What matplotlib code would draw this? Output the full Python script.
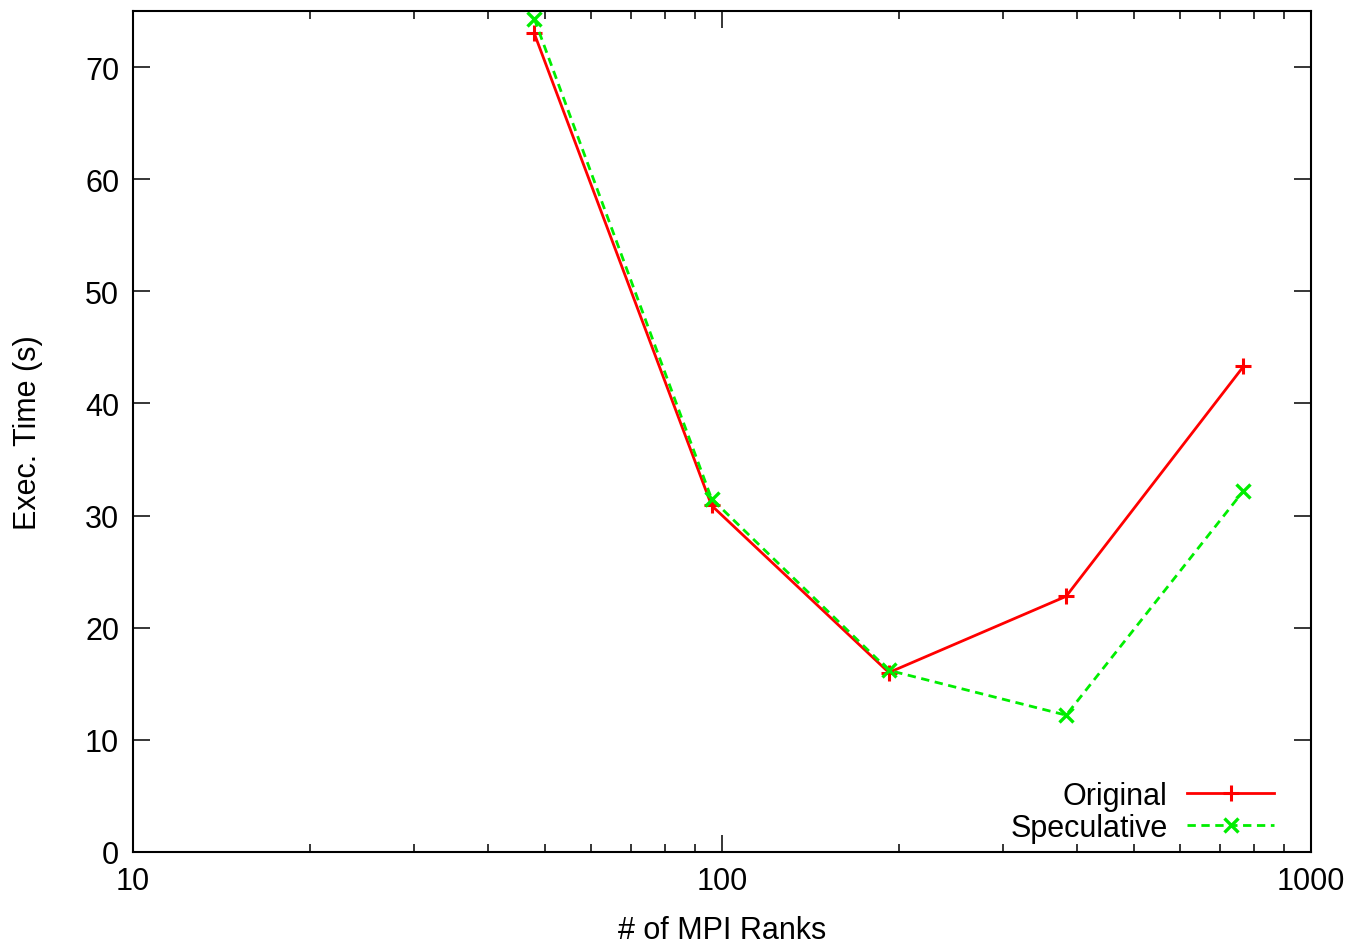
import matplotlib
matplotlib.use("Agg")
import matplotlib.pyplot as plt
from matplotlib.ticker import FixedLocator, FixedFormatter, LogLocator, NullFormatter

plt.rcParams['font.family'] = ['Liberation Sans', 'DejaVu Sans']

ranks = [48, 96, 192, 384, 768]
original = [73.0, 30.9, 16.0, 22.8, 43.3]
speculative = [74.3, 31.5, 16.2, 12.2, 32.2]
x_ticks = [10, 100, 1000]
x_tick_labels = ["10", "100", "1000"]
y_ticks = [0, 10, 20, 30, 40, 50, 60, 70]

FS = 22

fig = plt.figure(figsize=(13.55, 9.45), dpi=100)
ax = fig.add_axes([0.0982, 0.0974, 0.8693, 0.8899])

ax.plot(ranks, original, color="#ff0000", lw=2, marker="+", ms=11, mew=2.2,
        label="Original")
ax.plot(ranks, speculative, color="#00ee00", lw=2, ls=(0, (3, 2)), marker="x",
        ms=10, mew=2.4, label="Speculative")

ax.set_xscale("log")
ax.set_xlim(10, 1000)
ax.set_ylim(0, 75)
ax.xaxis.set_major_locator(FixedLocator(x_ticks))
ax.xaxis.set_major_formatter(FixedFormatter(x_tick_labels))
ax.xaxis.set_minor_locator(LogLocator(base=10, subs=range(2, 10)))
ax.xaxis.set_minor_formatter(NullFormatter())
ax.set_yticks(y_ticks)

ax.tick_params(which="both", direction="in", top=True, right=True, labelsize=FS,
               width=1.1)
ax.tick_params(which="major", length=12, pad=10)
ax.tick_params(which="minor", length=6)
for s in ax.spines.values():
    s.set_linewidth(1.5)

ax.set_xlabel("# of MPI Ranks", fontsize=FS, labelpad=14)
ax.set_ylabel("Exec. Time (s)", fontsize=FS, labelpad=30)

ax.legend(loc="lower right", bbox_to_anchor=(0.969, 0.011), frameon=False,
          markerfirst=False, fontsize=FS, handlelength=2.85, numpoints=1,
          borderaxespad=0, borderpad=0, labelspacing=0.05, handletextpad=0.65)

fig.savefig("out.png", dpi=100)
